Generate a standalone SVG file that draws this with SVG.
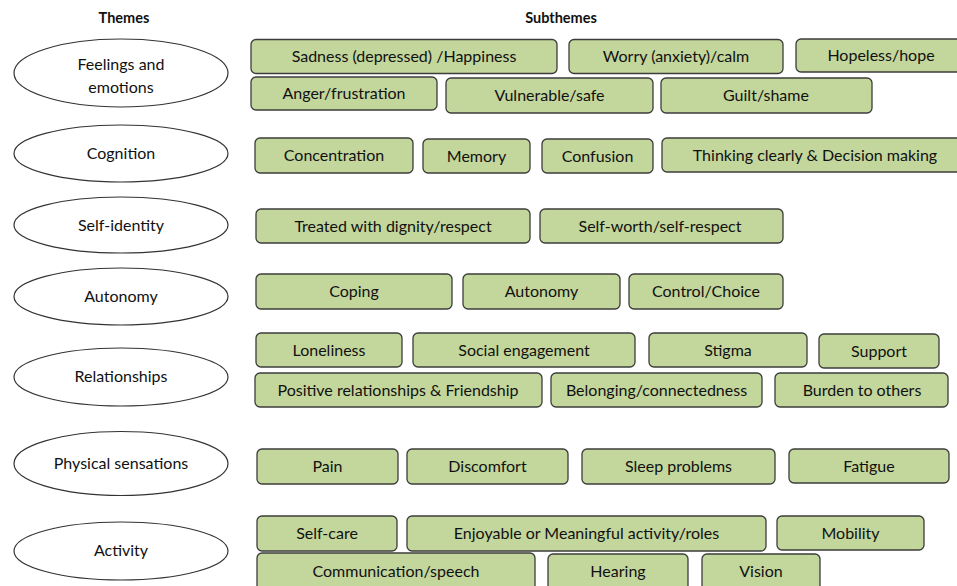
<svg xmlns="http://www.w3.org/2000/svg" width="957" height="586" viewBox="0 0 957 586">
<style>
text{font-family:Lato,"Liberation Sans",sans-serif;fill:#111;text-anchor:middle;dominant-baseline:central}
.t{font-size:16px;transform:translateY(-1px)}
.h{font-size:14.5px;font-weight:bold}
.e{fill:#fff;stroke:#333;stroke-width:1.2}
.b{fill:#c3d69b;stroke:#3c3c3c;stroke-width:1.3}
</style>
<rect width="957" height="586" fill="#fff"/>
<text class="h" x="124" y="17">Themes</text>
<text class="h" x="561" y="17">Subthemes</text>

<g id="theme-feelings"><ellipse class="e" cx="121" cy="73" rx="107" ry="34"/><text class="t" x="121" y="64">Feelings and</text><text class="t" x="121" y="87">emotions</text></g>
<g id="theme-cognition"><ellipse class="e" cx="121" cy="153.5" rx="107" ry="28.5"/><text class="t" x="121" y="153">Cognition</text></g>
<g id="theme-selfidentity"><ellipse class="e" cx="121" cy="225" rx="107" ry="28"/><text class="t" x="121" y="225">Self-identity</text></g>
<g id="theme-autonomy"><ellipse class="e" cx="121" cy="296.5" rx="107" ry="28.5"/><text class="t" x="121" y="296">Autonomy</text></g>
<g id="theme-relationships"><ellipse class="e" cx="121" cy="377" rx="107" ry="29"/><text class="t" x="121" y="376">Relationships</text></g>
<g id="theme-physical"><ellipse class="e" cx="121" cy="463.5" rx="107" ry="32"/><text class="t" x="121" y="463">Physical sensations</text></g>
<g id="theme-activity"><ellipse class="e" cx="121" cy="551" rx="107" ry="29"/><text class="t" x="121" y="550">Activity</text></g>

<g id="s-sadness"><rect class="b" x="251" y="39.5" width="306" height="34" rx="5"/><text class="t" x="404" y="56">Sadness (depressed) /Happiness</text></g>
<g id="s-worry"><rect class="b" x="569" y="39.5" width="214" height="34" rx="5"/><text class="t" x="676" y="56">Worry (anxiety)/calm</text></g>
<g id="s-hopeless"><rect class="b" x="796" y="39" width="170" height="33" rx="5"/><text class="t" x="881" y="55">Hopeless/hope</text></g>
<g id="s-anger"><rect class="b" x="251" y="77" width="186" height="33" rx="5"/><text class="t" x="344" y="93">Anger/frustration</text></g>
<g id="s-vulnerable"><rect class="b" x="446" y="78" width="207" height="35" rx="5"/><text class="t" x="549.5" y="95">Vulnerable/safe</text></g>
<g id="s-guilt"><rect class="b" x="661" y="78" width="211" height="35" rx="5"/><text class="t" x="766" y="95">Guilt/shame</text></g>

<g id="s-concentration"><rect class="b" x="255" y="138" width="158" height="35" rx="5"/><text class="t" x="334" y="155">Concentration</text></g>
<g id="s-memory"><rect class="b" x="423" y="139" width="107" height="34" rx="5"/><text class="t" x="476.5" y="156">Memory</text></g>
<g id="s-confusion"><rect class="b" x="542" y="139" width="111" height="34" rx="5"/><text class="t" x="597.5" y="156">Confusion</text></g>
<g id="s-thinking"><rect class="b" x="662" y="138" width="305" height="34" rx="5"/><text class="t" x="815" y="155">Thinking clearly &amp; Decision making</text></g>

<g id="s-treated"><rect class="b" x="256" y="209" width="274" height="34" rx="5"/><text class="t" x="393" y="226">Treated with dignity/respect</text></g>
<g id="s-selfworth"><rect class="b" x="540" y="209" width="243" height="34" rx="5"/><text class="t" x="660" y="226">Self-worth/self-respect</text></g>

<g id="s-coping"><rect class="b" x="256" y="274" width="196" height="35" rx="5"/><text class="t" x="354" y="291">Coping</text></g>
<g id="s-autonomy"><rect class="b" x="463" y="274" width="157" height="35" rx="5"/><text class="t" x="541.5" y="291">Autonomy</text></g>
<g id="s-control"><rect class="b" x="629" y="274" width="154" height="35" rx="5"/><text class="t" x="706" y="291">Control/Choice</text></g>

<g id="s-loneliness"><rect class="b" x="256" y="333" width="146" height="34" rx="5"/><text class="t" x="329" y="350">Loneliness</text></g>
<g id="s-social"><rect class="b" x="413" y="333" width="222" height="34" rx="5"/><text class="t" x="524" y="350">Social engagement</text></g>
<g id="s-stigma"><rect class="b" x="649" y="333" width="158" height="34" rx="5"/><text class="t" x="728" y="350">Stigma</text></g>
<g id="s-support"><rect class="b" x="819" y="334" width="120" height="34" rx="5"/><text class="t" x="879" y="351">Support</text></g>
<g id="s-positive"><rect class="b" x="255" y="373" width="287" height="34" rx="5"/><text class="t" x="398" y="390">Positive relationships &amp; Friendship</text></g>
<g id="s-belonging"><rect class="b" x="551" y="373" width="211" height="34" rx="5"/><text class="t" x="656.5" y="390">Belonging/connectedness</text></g>
<g id="s-burden"><rect class="b" x="775" y="373" width="173" height="34" rx="5"/><text class="t" x="862" y="390">Burden to others</text></g>

<g id="s-pain"><rect class="b" x="257" y="449" width="141" height="35" rx="5"/><text class="t" x="327.5" y="466">Pain</text></g>
<g id="s-discomfort"><rect class="b" x="407" y="449" width="161" height="35" rx="5"/><text class="t" x="487.5" y="466">Discomfort</text></g>
<g id="s-sleep"><rect class="b" x="582" y="449" width="193" height="35" rx="5"/><text class="t" x="678.5" y="466">Sleep problems</text></g>
<g id="s-fatigue"><rect class="b" x="789" y="449" width="160" height="34" rx="5"/><text class="t" x="869" y="466">Fatigue</text></g>

<g id="s-selfcare"><rect class="b" x="257" y="516" width="140" height="35" rx="5"/><text class="t" x="327" y="533">Self-care</text></g>
<g id="s-enjoyable"><rect class="b" x="407" y="516" width="359" height="35" rx="5"/><text class="t" x="586.5" y="533">Enjoyable or Meaningful activity/roles</text></g>
<g id="s-mobility"><rect class="b" x="777" y="516" width="147" height="34" rx="5"/><text class="t" x="850.5" y="533">Mobility</text></g>
<g id="s-communication"><rect class="b" x="257" y="553" width="278" height="40" rx="5"/><text class="t" x="396" y="571">Communication/speech</text></g>
<g id="s-hearing"><rect class="b" x="548" y="554" width="140" height="39" rx="5"/><text class="t" x="618" y="571">Hearing</text></g>
<g id="s-vision"><rect class="b" x="702" y="554" width="118" height="39" rx="5"/><text class="t" x="761" y="571">Vision</text></g>

<g id="connectors"/>
</svg>
